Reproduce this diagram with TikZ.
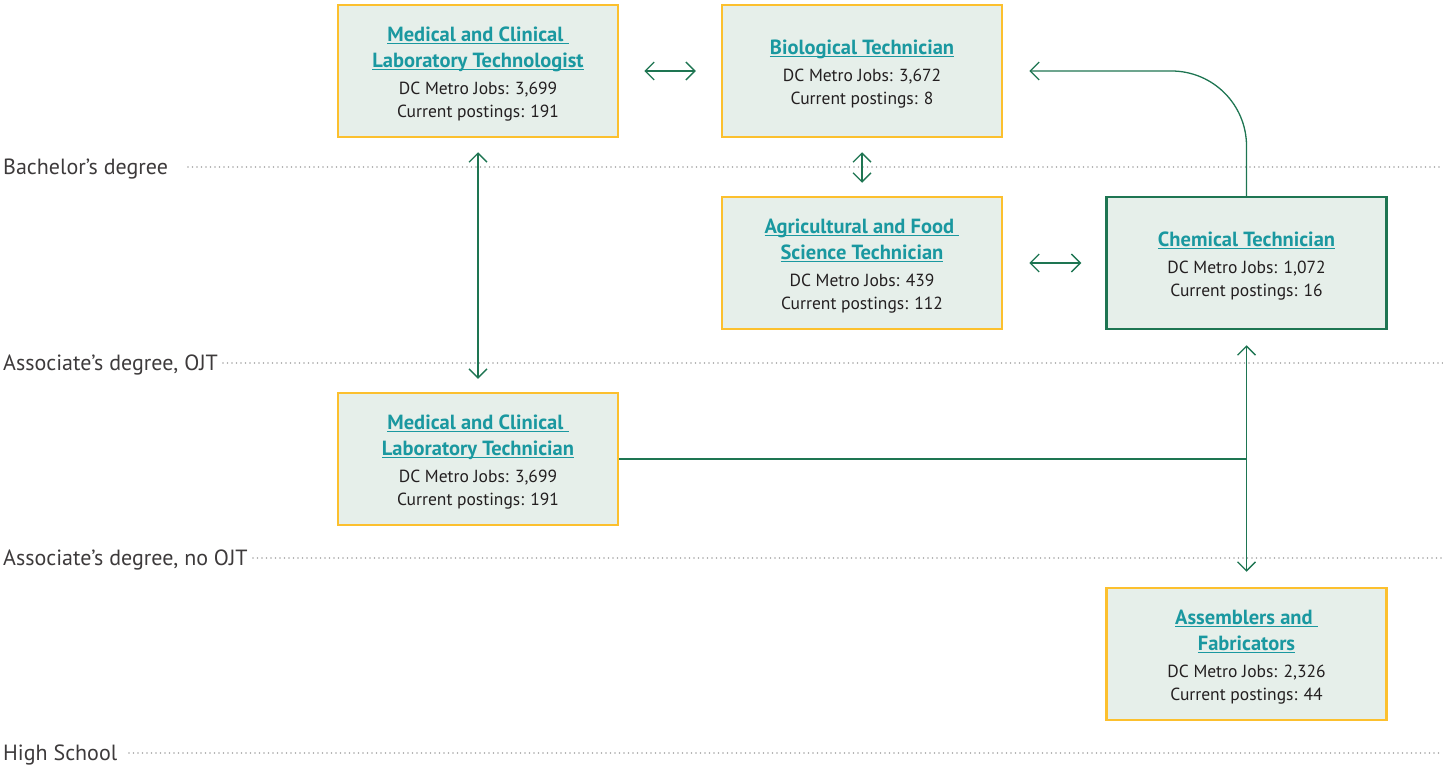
\documentclass[tikz,border=0pt]{standalone}
\usepackage{fontspec}
\setmainfont{PT Sans}
\usetikzlibrary{arrows.meta}
\definecolor{boxfill}{HTML}{E6EFEA}
\definecolor{ybord}{HTML}{FCC02E}
\definecolor{gline}{HTML}{1E7552}
\definecolor{tealt}{HTML}{1A98A0}
\definecolor{dotgray}{HTML}{A6A6A6}
\definecolor{ink}{HTML}{231F20}
\newcommand\ttl[1]{{\color{tealt}\bfseries\fontsize{20.5}{23}\selectfont\setbox0\hbox{#1}\rlap{\rule[-2.8pt]{\wd0}{1.2pt}}\box0}}
\newcommand\topstrut{\rule{0pt}{21pt}}
\begin{document}
\begin{tikzpicture}[x=1pt,y=-1pt,
  job/.style={draw=ybord, line width=2.5pt, fill=boxfill, minimum width=280pt, minimum height=132pt,
    align=center, inner sep=0pt, text=ink, font=\fontsize{17.5}{23}\selectfont},
  chem/.style={job, draw=gline},
  conn/.style={draw=gline, line width=1.3pt},
  tip/.tip={Straight Barb[length=9pt,width=18pt,line width=1.3pt]},
  arr/.style={conn, tip-tip},
  level/.style={anchor=base west, inner sep=0pt, text=ink!88, font=\fontsize{22}{22}\selectfont},
  dots/.style={draw=dotgray, line width=1.8pt, dash pattern=on 0pt off 4.5pt, line cap=round}]
\useasboundingbox (0,0) rectangle (1443,766);

% levels
\node[level] (lb) at (3,174) {Bachelor’s degree};
\node[level] (lo) at (3,370) {Associate’s degree, OJT};
\node[level] (ln) at (3,565) {Associate’s degree, no OJT};
\node[level] (lh) at (3,760) {High School};
\draw[dots] (188,167) -- (1443,167);
\draw[dots] (223,363) -- (1443,363);
\draw[dots] (253,558) -- (1443,558);
\draw[dots] (129,753) -- (1443,753);

% boxes
\node[job] (tg) at (478,71) {\topstrut\ttl{Medical and Clinical\ }\\[3pt]\ttl{Laboratory Technologist}\\[4pt]DC Metro Jobs: 3,699\\Current postings: 191};
\node[job] (bio) at (862,71) {\topstrut\ttl{Biological Technician}\\[4pt]DC Metro Jobs: 3,672\\Current postings: 8};
\node[job] (agri) at (862,263) {\topstrut\ttl{Agricultural and Food\ }\\[3pt]\ttl{Science Technician}\\[4pt]DC Metro Jobs: 439\\Current postings: 112};
\node[chem] (chem) at (1246.5,263) {\topstrut\ttl{Chemical Technician}\\[4pt]DC Metro Jobs: 1,072\\Current postings: 16};
\node[job] (tc) at (478,459) {\topstrut\ttl{Medical and Clinical\ }\\[3pt]\ttl{Laboratory Technician}\\[4pt]DC Metro Jobs: 3,699\\Current postings: 191};
\node[job] (as) at (1246.5,654) {\topstrut\ttl{Assemblers and\ }\\[3pt]\ttl{Fabricators}\\[4pt]DC Metro Jobs: 2,326\\Current postings: 44};

% connectors
\draw[arr, shorten <=25pt, shorten >=25pt] (tg.east) -- (bio.west);
\draw[arr, shorten <=14pt, shorten >=13pt] (bio.south) -- (agri.north);
\draw[arr, shorten <=14pt, shorten >=13pt] (tg.south) -- (tc.north);
\draw[arr, shorten <=26pt, shorten >=24pt] (agri.east) -- (chem.west);
\draw[conn, -tip, rounded corners=75pt, shorten >=26pt] (chem.north) |- (bio.east);
\draw[arr, shorten <=15pt, shorten >=15pt] (chem.south) -- (as.north);
\draw[conn] (tc.east) -- (tc.east -| chem.south);
\end{tikzpicture}
\end{document}
